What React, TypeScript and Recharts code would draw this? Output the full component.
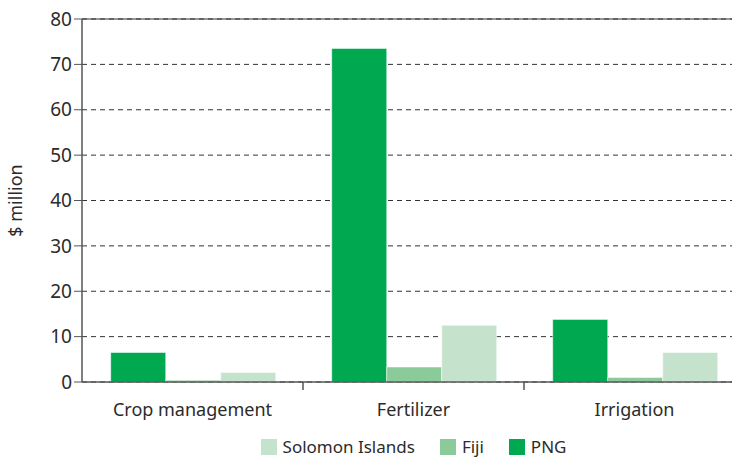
import { BarChart, Bar, XAxis, YAxis, CartesianGrid, Legend, ReferenceLine } from 'recharts';

const categories = ['Crop management', 'Fertilizer', 'Irrigation'];
const png = [6.5, 73.5, 13.8];
const fiji = [0.4, 3.3, 1.0];
const solomon = [2.1, 12.5, 6.5];
const yTicks = [0, 10, 20, 30, 40, 50, 60, 70, 80];

const COLORS = { png: '#00a84f', fiji: '#8bcb9a', solomon: '#c5e3cc' };
const FONT = '"Noto Sans", "Open Sans", sans-serif';
const TEXT = '#2b2b2b';

document.body.style.margin = '0';
document.body.style.overflow = 'hidden';

const data = categories.map((name, i) => ({
  name,
  png: png[i],
  fiji: fiji[i],
  solomon: solomon[i],
}));

const legendItems = [
  { key: 'solomon', label: 'Solomon Islands' },
  { key: 'fiji', label: 'Fiji' },
  { key: 'png', label: 'PNG' },
];

const CHART_W = 745;
const PLOT_LEFT = 82;
const BAND = (CHART_W - PLOT_LEFT) / categories.length;

const CategoryTick = (props: any) => {
  const { x, y, payload, index } = props;
  return (
    <g>
      <text x={x} y={y + 26} textAnchor="middle" fill={TEXT} fontSize={18} fontFamily={FONT}>
        {payload.value}
      </text>
      {index < categories.length - 1 && (
        <line x1={x + BAND / 2} x2={x + BAND / 2} y1={y - 8} y2={y} stroke="#555" strokeWidth={1.5} />
      )}
    </g>
  );
};

const YLabel = (props: any) => {
  const { viewBox } = props;
  const cy = viewBox.y + viewBox.height / 2;
  return (
    <text
      x={22}
      y={cy}
      transform={`rotate(-90, 22, ${cy})`}
      textAnchor="middle"
      fill={TEXT}
      fontSize={18}
      fontFamily={FONT}
    >
      $ million
    </text>
  );
};

const LegendContent = () => (
  <div
    style={{
      display: 'flex',
      justifyContent: 'center',
      gap: 25,
      paddingTop: 5,
      paddingLeft: PLOT_LEFT,
      lineHeight: '20px',
      height: 25,
      fontFamily: FONT,
      fontSize: 17,
      color: TEXT,
    }}
  >
    {legendItems.map((it) => (
      <div key={it.key} style={{ display: 'flex', alignItems: 'center', gap: 6 }}>
        <span style={{ width: 16, height: 16, background: COLORS[it.key as keyof typeof COLORS], display: 'inline-block' }} />
        <span>{it.label}</span>
      </div>
    ))}
  </div>
);

export default function App() {
  return (
    <div style={{ width: 732, height: 458, overflow: 'hidden', background: '#fff' }}>
      <BarChart
        width={CHART_W}
        height={458}
        data={data}
        margin={{ top: 19, right: 0, left: 0, bottom: 4 }}
        barCategoryGap="13%"
        barGap={0}
      >
        <CartesianGrid vertical={false} stroke="#333" strokeDasharray="5 4" strokeWidth={1} />
        <ReferenceLine y={80} stroke="#333" strokeWidth={1.2} />
        <XAxis
          dataKey="name"
          tick={<CategoryTick />}
          tickLine={false}
          axisLine={{ stroke: '#555', strokeWidth: 1.5 }}
          height={47}
          interval={0}
        />
        <YAxis
          domain={[0, 80]}
          ticks={yTicks}
          width={PLOT_LEFT}
          tickSize={8}
          tick={{ fill: TEXT, fontSize: 19, fontFamily: FONT }}
          tickLine={{ stroke: '#555' }}
          axisLine={{ stroke: '#555', strokeWidth: 1.5 }}
          label={<YLabel />}
        />
        <Legend verticalAlign="bottom" height={25} content={<LegendContent />} />
        <Bar dataKey="png" fill={COLORS.png} stroke="#fff" strokeWidth={0.5} isAnimationActive={false} />
        <Bar dataKey="fiji" fill={COLORS.fiji} stroke="#fff" strokeWidth={0.5} isAnimationActive={false} />
        <Bar dataKey="solomon" fill={COLORS.solomon} stroke="#fff" strokeWidth={0.5} isAnimationActive={false} />
      </BarChart>
    </div>
  );
}
